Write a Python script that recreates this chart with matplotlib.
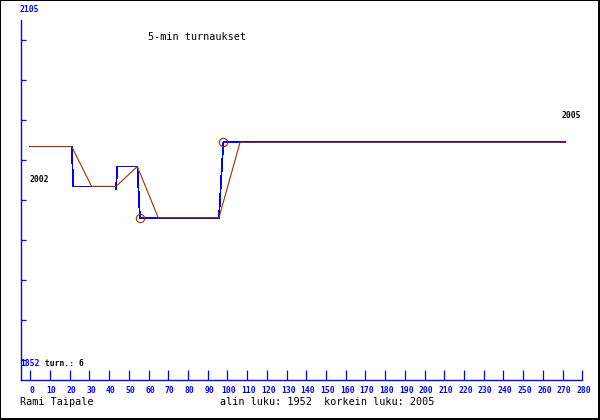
import matplotlib
matplotlib.use("Agg")
import matplotlib.pyplot as plt
import matplotlib.transforms as mtransforms
from matplotlib.patches import Rectangle

# ---- data (games played vs. rating) ----
blue_games = [0, 21.0, 21.8, 43.5, 43.5, 44.1, 54.3, 55.6, 95.7, 97.9, 271.2]
blue_rating = [2002, 2002, 1974, 1974, 1972, 1988, 1988, 1952, 1952, 2005, 2005]
brown_games = [0, 21.0, 31.1, 43.5, 54.3, 64.9, 95.7, 106.4, 271.2]
brown_rating = [2002, 2002, 1974, 1974, 1988, 1952, 1952, 2005, 2005]
circle_games = [55.6, 97.9]
circle_rating = [1952, 2005]
x_ticks = list(range(0, 281, 10))
title = "5-min turnaukset"
author = "Rami Taipale"
y_top_label = "2105"
y_bottom_label = "1852"
turn_label = " turn.: 6"
start_label = "2002"
end_label = "2005"
summary = "alin luku: 1952  korkein luku: 2005"

W, H = 600, 420
BLUE = "#0000ff"
BROWN = "#993300"
MONO = "DejaVu Sans Mono"

fig = plt.figure(figsize=(W / 100, H / 100), dpi=100)
fig.patch.set_facecolor("white")

# pixel geometry of the plotting area
px_left, px_right = 21.0, 582.3
px_top, px_bottom = 0.0, 380.0
x_per_game = (582.3 - 30.3) / 280.0
y_per_point = 360.0 / (2105 - 1852)

xmin = (px_left - 30.3) / x_per_game
xmax = 280.0
ymax = 2105.0
ymin = 2105.0 - px_bottom / y_per_point

ax = fig.add_axes([px_left / W, 1 - px_bottom / H,
                   (px_right - px_left) / W, (px_bottom - px_top) / H])
ax.set_xlim(xmin, xmax)
ax.set_ylim(ymin, ymax)
ax.set_facecolor("none")

for s in ("top", "right"):
    ax.spines[s].set_visible(False)
for s in ("left", "bottom"):
    ax.spines[s].set_color(BLUE)
    ax.spines[s].set_linewidth(1.0)
ax.spines["left"].set_bounds(ymin, 2105.0 - 20.0 / y_per_point)

ax.set_xticks(x_ticks)
ax.set_xticklabels([str(t) for t in x_ticks])
ax.tick_params(axis="x", direction="in", length=7.2, width=0.9, color=BLUE,
               labelcolor=BLUE, labelsize=5.8, pad=4.0)
shift = mtransforms.ScaledTranslation(1.5 / 100, 0, fig.dpi_scale_trans)
for lab in ax.get_xticklabels():
    lab.set_fontfamily(MONO)
    lab.set_fontweight("bold")
    lab.set_transform(lab.get_transform() + shift)

ytick_px = [40, 80, 120, 160, 200, 240, 280, 320, 360]
ax.set_yticks([2105.0 - p / y_per_point for p in ytick_px])
ax.set_yticklabels([])
ax.tick_params(axis="y", direction="in", length=3.3, width=0.9, color=BLUE)

ax.plot(blue_games, blue_rating, color=BLUE, lw=0.55, antialiased=False)
ax.plot(brown_games, brown_rating, color=BROWN, lw=0.8, antialiased=True)
ax.plot(circle_games, circle_rating, linestyle="none", marker="o", ms=6.0,
        mfc="none", mec=BROWN, mew=0.8)


def ftext(x, y, s, **kw):
    fig.text(x / W, 1 - y / H, s, family=MONO, va="center", **kw)


ftext(197, 37, title, ha="center", fontsize=7.3, color="black")
ftext(20, 402, author, ha="left", fontsize=7.3, color="black")
ftext(220, 402, summary, ha="left", fontsize=7.3, color="black")
ftext(19.5, 9, y_top_label, ha="left", fontsize=5.8, fontweight="bold", color=BLUE)
ftext(20.2, 364, y_bottom_label, ha="left", fontsize=5.8, fontweight="bold", color=BLUE)
ftext(40.0, 364, turn_label, ha="left", fontsize=5.8, fontweight="bold", color="black")
ftext(30, 180, start_label, ha="left", fontsize=5.8, fontweight="bold", color="black")
ftext(561.5, 116, end_label, ha="left", fontsize=5.8, fontweight="bold", color="black")

# outer black frame
for (x0, y0, w, h) in [(0, 0, 1, H), (0, 0, W, 1), (W - 2, 0, 2, H), (0, H - 2, W, 2)]:
    fig.add_artist(Rectangle((x0 / W, 1 - (y0 + h) / H), w / W, h / H,
                             transform=fig.transFigure, color="black", lw=0))

fig.savefig("out.png", dpi=100, facecolor="white")
